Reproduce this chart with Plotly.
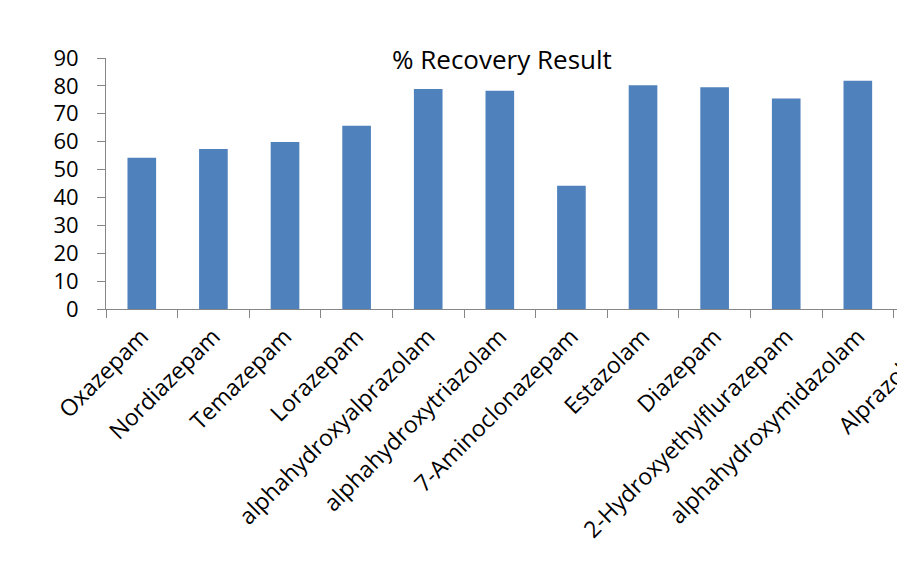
import plotly.graph_objects as go

categories = ["Oxazepam", "Nordiazepam", "Temazepam", "Lorazepam",
              "alphahydroxyalprazolam", "alphahydroxytriazolam", "7-Aminoclonazepam",
              "Estazolam", "Diazepam", "2-Hydroxyethylflurazepam",
              "alphahydroxymidazolam", "Alprazolam"]
recovery = [54.2, 57.4, 59.9, 65.7, 78.9, 78.3, 44.2, 80.2, 79.5, 75.5, 81.8, 80.0]
y_ticks = [0, 10, 20, 30, 40, 50, 60, 70, 80, 90]
title_text = "% Recovery Result"

FONT = "Open Sans"
AXIS_COLOR = "#868686"
x_range = [-0.5, 10.547]

n_visible = 11  # categories that fit inside the cropped frame

fig = go.Figure()
fig.add_trace(go.Bar(
    x=categories, y=recovery,
    marker=dict(color="#4F81BD", line=dict(width=0)),
))

fig.update_layout(
    width=897, height=573,
    margin=dict(l=106, r=0, t=58, b=264, pad=0),
    plot_bgcolor="white", paper_bgcolor="white",
    bargap=0.6,
    showlegend=False,
    font=dict(family=FONT, color="black", size=22),
)
fig.update_xaxes(
    type="category",
    range=x_range,
    showgrid=False, zeroline=False,
    showline=True, linecolor=AXIS_COLOR, linewidth=1,
    ticks="outside", ticklen=8, tickcolor=AXIS_COLOR, tickwidth=1,
    tickson="boundaries",
    tickangle=-45,
    tickfont=dict(family=FONT, size=23, color="black"),
    ticklabelstandoff=4,
)
fig.update_yaxes(
    range=[0, 90],
    tickvals=y_ticks,
    showgrid=False, zeroline=False,
    showline=True, linecolor=AXIS_COLOR, linewidth=1,
    ticks="outside", ticklen=8, tickcolor=AXIS_COLOR, tickwidth=1,
    tickfont=dict(family=FONT, size=22, color="black"),
    ticklabelstandoff=14,
)

# title
fig.add_annotation(
    text=title_text, x=0.5, y=0.995, xref="paper", yref="paper",
    xanchor="center", yanchor="middle", showarrow=False,
    font=dict(family=FONT, size=26, color="black"),
)

# label of the category that lies beyond the cropped right edge
span = x_range[1] - x_range[0]
for i in range(n_visible, len(categories)):
    fig.add_annotation(
        text=categories[i], x=(i + 0.17 - x_range[0]) / span, y=-0.08,
        xref="paper", yref="paper", xanchor="right", yanchor="top",
        textangle=-45, showarrow=False,
        font=dict(family=FONT, size=23, color="black"),
    )

fig.write_html("out.html")
